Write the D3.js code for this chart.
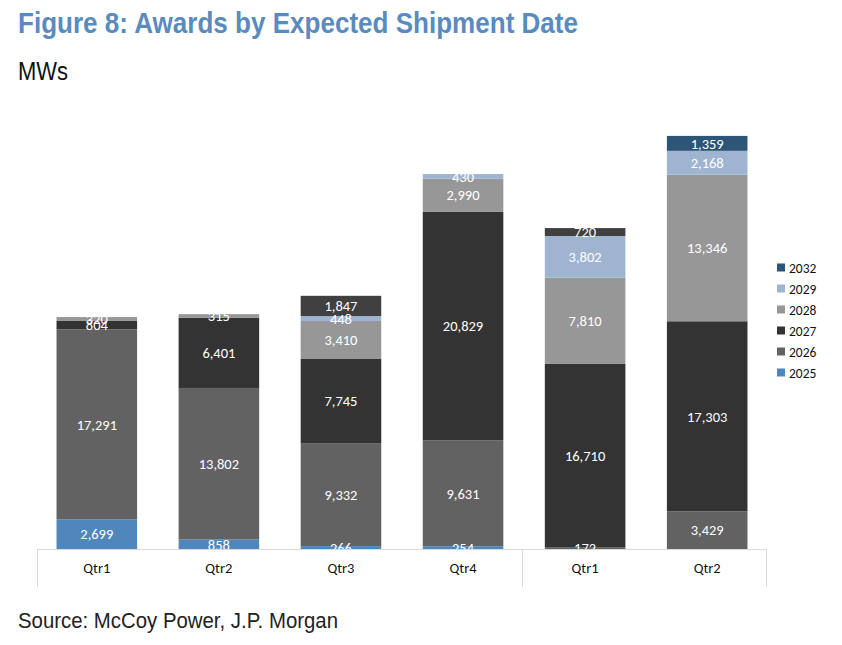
<!DOCTYPE html>
<html><head><meta charset="utf-8">
<script src="https://cdn.jsdelivr.net/npm/d3@7"></script>
<style>body{margin:0;background:#fff}</style>
</head><body>
<svg id="c" width="842" height="645"></svg>
<script>
const categories = ["Qtr1","Qtr2","Qtr3","Qtr4","Qtr1 ","Qtr2 "];
const s2025 = [2699, 858, 266, 254, 0, 0];
const s2026 = [17291, 13802, 9332, 9631, 172, 3429];
const s2027 = [804, 6401, 7745, 20829, 16710, 17303];
const s2028 = [320, 315, 3410, 2990, 7810, 13346];
const s2029 = [0, 0, 448, 430, 3802, 2168];
const s2030 = [0, 0, 1847, 0, 720, 0];
const s2032 = [0, 0, 0, 0, 0, 1359];
const seriesNames = ["2025","2026","2027","2028","2029","2030","2032"];
const seriesValues = [s2025, s2026, s2027, s2028, s2029, s2030, s2032];
const legendNames = ["2032","2029","2028","2027","2026","2025"];
const colors = {"2025":"#4f87bd","2026":"#626262","2027":"#333333","2028":"#979797","2029":"#9fb4d0","2030":"#404040","2032":"#2c5577"};

const svg = d3.select("#c");
const rows = categories.map((c,i)=>{const r={cat:c}; seriesNames.forEach((s,j)=>r[s]=seriesValues[j][i]); return r;});
const stack = d3.stack().keys(seriesNames)(rows);

const x = d3.scaleBand().domain(categories).range([37,767]).paddingInner(0.34).paddingOuter(0.16);
const y = d3.scaleLinear().domain([0,40000]).range([549,109.6]);
const fmt = d3.format(",");
const narrow = "Liberation Sans Narrow, Arial Narrow, Liberation Sans, Arial, sans-serif";
const lab = "Carlito, Lato, Open Sans, sans-serif";

// title
svg.append("text").attr("x",18).attr("y",33).attr("fill","#5a8bbf")
  .attr("font-family",narrow)
  .attr("font-weight","bold").attr("font-size",29).attr("textLength",560).attr("lengthAdjust","spacingAndGlyphs")
  .text("Figure 8: Awards by Expected Shipment Date");
svg.append("text").attr("x",18).attr("y",80).attr("fill","#111")
  .attr("font-family",narrow)
  .attr("font-size",25).attr("textLength",50).attr("lengthAdjust","spacingAndGlyphs").text("MWs");
svg.append("text").attr("x",18).attr("y",628).attr("fill","#222")
  .attr("font-family",narrow)
  .attr("font-size",22).attr("textLength",320).attr("lengthAdjust","spacingAndGlyphs")
  .text("Source: McCoy Power, J.P. Morgan");

// bars
const g = svg.append("g");
stack.forEach(layer=>{
  const key = layer.key;
  layer.forEach((d,i)=>{
    const v = d[1]-d[0];
    if (v<=0) return;
    g.append("rect").attr("x",x(categories[i])).attr("width",x.bandwidth())
      .attr("y",y(d[1])).attr("height",y(d[0])-y(d[1])).attr("fill",colors[key]);
  });
});
stack.forEach(layer=>{
  layer.forEach((d,i)=>{
    const v = d[1]-d[0];
    if (v<=0) return;
    g.append("text").attr("x",x(categories[i])+x.bandwidth()/2).attr("y",(y(d[0])+y(d[1]))/2)
      .attr("dy","0.36em").attr("text-anchor","middle").attr("fill","#fff")
      .attr("font-family",lab).attr("font-size",14.5)
      .text(fmt(v));
  });
});

// category axis box
const axisG = svg.append("g");
axisG.append("rect").attr("x",37).attr("y",549).attr("width",730).attr("height",37).attr("fill","#fff");
const lc = "#d9d9d9";
axisG.append("line").attr("x1",37).attr("x2",767).attr("y1",549.5).attr("y2",549.5).attr("stroke",lc);
[37.5, 522.5, 766.5].forEach(px=>axisG.append("line").attr("x1",px).attr("x2",px).attr("y1",549).attr("y2",587).attr("stroke",lc));
categories.forEach(c=>{
  axisG.append("text").attr("x",x(c)+x.bandwidth()/2).attr("y",573).attr("text-anchor","middle")
    .attr("fill","#111").attr("font-family",lab).attr("font-size",14.5)
    .text(c.trim());
});

// legend
const lg = svg.append("g");
legendNames.forEach((n,i)=>{
  const yy = 268 + i*21;
  lg.append("rect").attr("x",777).attr("y",yy-4.5).attr("width",8).attr("height",8).attr("fill",colors[n]);
  lg.append("text").attr("x",789).attr("y",yy).attr("dy","0.36em").attr("fill","#111")
    .attr("font-family",lab).attr("font-size",13.5).text(n);
});
</script>
</body></html>
